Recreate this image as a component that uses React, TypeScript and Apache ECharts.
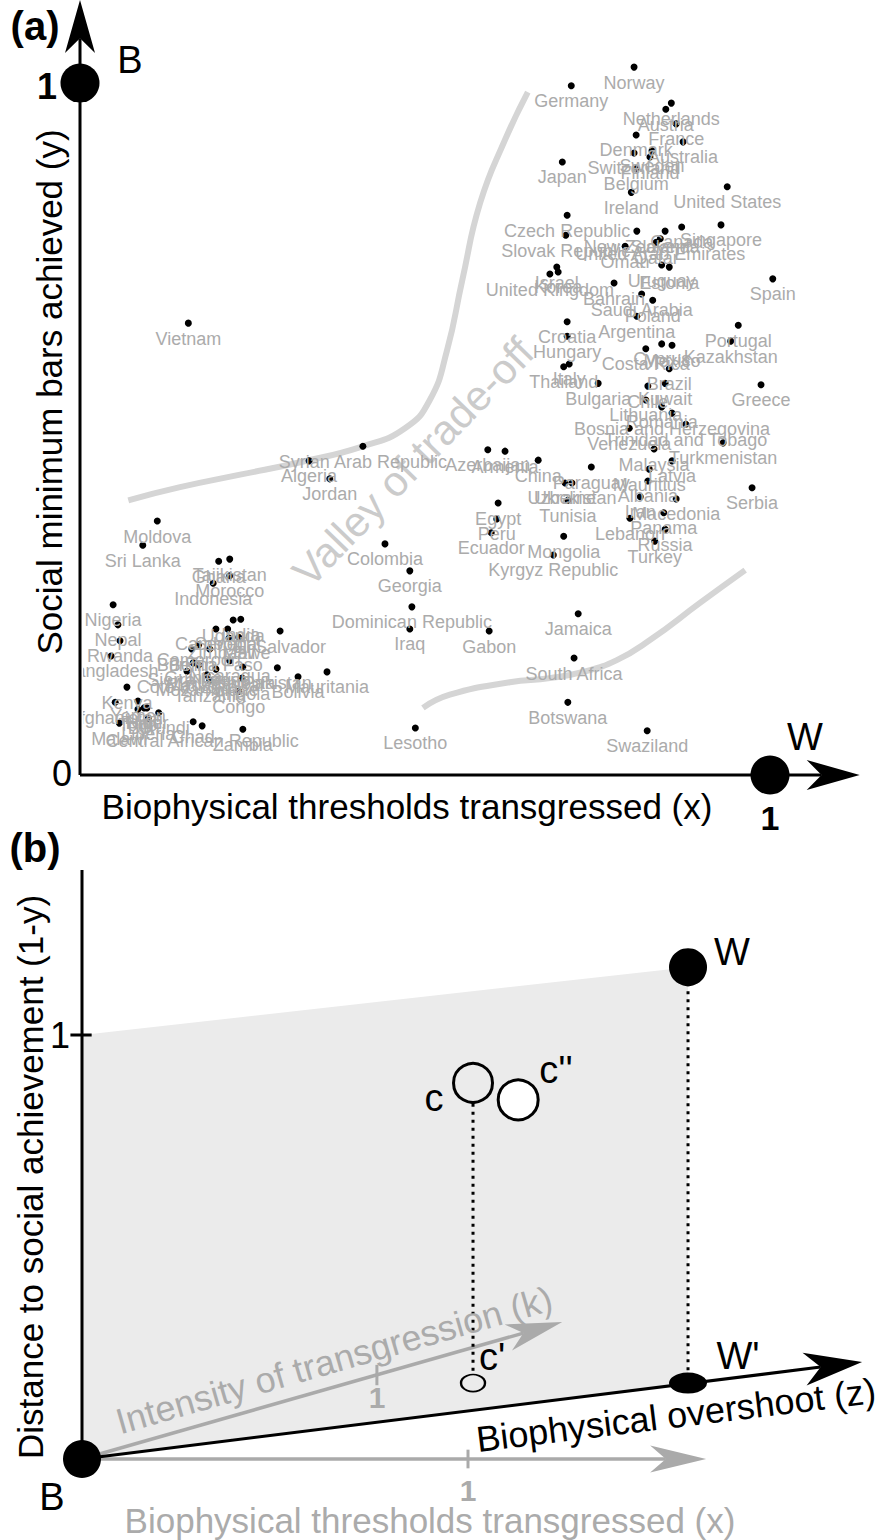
import React, { useEffect, useRef } from "react";
import * as echarts from "echarts";

const FONT = "'Liberation Sans', Arial, Helvetica, sans-serif";

// ---------- Panel (a) data ----------
const countries = [
  "Norway", "Germany", "Netherlands", "Austria", "France", "Denmark", "Australia", "Switzerland", "Sweden", "Finland",
  "Belgium", "Japan", "Ireland", "United States", "Czech Republic", "Slovak Republic", "New Zealand", "Slovenia", "Canada", "Singapore",
  "Oman", "United Arab Emirates", "Qatar", "Israel", "Korea", "United Kingdom", "Bahrain", "Uruguay", "Estonia", "Spain",
  "Saudi Arabia", "Poland", "Argentina", "Croatia", "Portugal", "Hungary", "Kazakhstan", "Cyprus", "Mexico", "Costa Rica",
  "Italy", "Thailand", "Brazil", "Bulgaria", "Kuwait", "Chile", "Greece", "Lithuania", "Romania", "Bosnia and Herzegovina",
  "Trinidad and Tobago", "Venezuela", "Turkmenistan", "Malaysia", "Latvia", "Mauritius", "Albania", "Serbia", "Iran", "Macedonia",
  "Panama", "Lebanon", "Russia", "Turkey", "Azerbaijan", "Armenia", "China", "Paraguay", "Ukraine", "Uzbekistan",
  "Tunisia", "Egypt", "Peru", "Ecuador", "Mongolia", "Kyrgyz Republic", "Syrian Arab Republic", "Algeria", "Jordan", "Colombia",
  "Georgia", "Dominican Republic", "Iraq", "Gabon", "Jamaica", "South Africa", "Botswana", "Swaziland", "Lesotho", "Vietnam",
  "Moldova", "Sri Lanka", "Ghana", "Tajikistan", "Morocco", "Indonesia", "Nigeria", "Uganda", "India", "Nepal",
  "Cambodia", "Senegal", "El Salvador", "Rwanda", "Zimbabwe", "Mali", "Benin", "Cameroon", "Burkina Faso", "Bangladesh",
  "Nicaragua", "Guinea", "Sierra Leone", "Côte d'Ivoire", "Madagascar", "Ethiopia", "Pakistan", "Bolivia", "Mauritania", "Mozambique",
  "Tanzania", "Angola", "Kenya", "Congo", "Afghanistan", "Yemen", "Togo", "Haiti", "Niger", "Burundi",
  "Liberia", "Malawi", "Chad", "Central African Republic", "Zambia",
];

const bioX = [
  0.803, 0.712, 0.857, 0.849, 0.864, 0.806, 0.874, 0.803, 0.829, 0.826,
  0.806, 0.699, 0.799, 0.938, 0.706, 0.704, 0.807, 0.848, 0.872, 0.929,
  0.790, 0.841, 0.835, 0.691, 0.693, 0.681, 0.774, 0.843, 0.854, 1.004,
  0.814, 0.830, 0.807, 0.706, 0.954, 0.706, 0.943, 0.843, 0.858, 0.820,
  0.709, 0.701, 0.854, 0.751, 0.848, 0.823, 0.987, 0.820, 0.843, 0.858,
  0.878, 0.796, 0.932, 0.832, 0.858, 0.825, 0.823, 0.974, 0.812, 0.864,
  0.846, 0.797, 0.848, 0.833, 0.591, 0.616, 0.664, 0.741, 0.703, 0.713,
  0.707, 0.606, 0.604, 0.596, 0.701, 0.686, 0.410, 0.332, 0.362, 0.442,
  0.478, 0.481, 0.478, 0.593, 0.722, 0.716, 0.707, 0.822, 0.486, 0.157,
  0.112, 0.091, 0.201, 0.217, 0.217, 0.193, 0.048, 0.222, 0.233, 0.055,
  0.197, 0.214, 0.290, 0.058, 0.216, 0.230, 0.162, 0.172, 0.188, 0.045,
  0.217, 0.164, 0.172, 0.155, 0.197, 0.236, 0.286, 0.316, 0.358, 0.184,
  0.188, 0.235, 0.068, 0.230, 0.051, 0.084, 0.084, 0.093, 0.097, 0.114,
  0.099, 0.057, 0.164, 0.177, 0.236,
];

const socialY = [
  1.023, 0.996, 0.971, 0.962, 0.941, 0.925, 0.915, 0.899, 0.902, 0.893,
  0.876, 0.886, 0.842, 0.850, 0.809, 0.780, 0.786, 0.786, 0.792, 0.795,
  0.764, 0.775, 0.770, 0.734, 0.727, 0.724, 0.711, 0.737, 0.734, 0.717,
  0.695, 0.686, 0.663, 0.655, 0.650, 0.634, 0.627, 0.623, 0.621, 0.616,
  0.594, 0.590, 0.587, 0.566, 0.566, 0.562, 0.564, 0.542, 0.532, 0.523,
  0.507, 0.501, 0.480, 0.471, 0.454, 0.442, 0.425, 0.415, 0.402, 0.399,
  0.379, 0.371, 0.355, 0.338, 0.470, 0.468, 0.455, 0.445, 0.422, 0.422,
  0.397, 0.393, 0.370, 0.350, 0.345, 0.318, 0.475, 0.454, 0.428, 0.334,
  0.295, 0.243, 0.211, 0.208, 0.233, 0.169, 0.105, 0.064, 0.068, 0.653,
  0.367, 0.332, 0.309, 0.312, 0.288, 0.277, 0.246, 0.224, 0.225, 0.217,
  0.211, 0.211, 0.208, 0.194, 0.198, 0.199, 0.182, 0.188, 0.182, 0.172,
  0.165, 0.162, 0.159, 0.150, 0.153, 0.156, 0.155, 0.142, 0.149, 0.145,
  0.137, 0.140, 0.127, 0.121, 0.105, 0.107, 0.095, 0.097, 0.097, 0.090,
  0.082, 0.075, 0.077, 0.071, 0.066,
];

// "Valley of trade-off" boundary curves
const valleyUpperX = [0.649, 0.616, 0.580, 0.554, 0.532, 0.507, 0.471, 0.410, 0.319, 0.232, 0.145, 0.070];
const valleyUpperY = [0.987, 0.918, 0.827, 0.715, 0.614, 0.542, 0.501, 0.475, 0.452, 0.434, 0.416, 0.397];
const valleyLowerX = [0.497, 0.536, 0.623, 0.681, 0.729, 0.778, 0.826, 0.899, 0.964];
const valleyLowerY = [0.097, 0.116, 0.134, 0.140, 0.149, 0.166, 0.195, 0.249, 0.296];

// Extremes B and W in panel (a)
const extremeX = [0, 1];
const extremeY = [1, 0];

// Axis extents of panel (a)
const axisAMaxX = 1.14;
const axisAMaxY = 1.12;
const arrowsA = [
  [0, 0, 0, 1.12],
  [0, 0, 1.13, 0],
];

// ---------- Panel (b) data ----------
const diagramNames = ["B", "W", "W'", "c", "c''", "c'"];
const diagramX = [0, 1.57, 1.57, 1.013, 1.13, 1.013];
const diagramY = [0, 1.16, 0.179, 0.887, 0.847, 0.179];

const planeX = [0, 1.57, 1.57, 0];
const planeY = [1, 1.16, 0.179, 0];

const axisBMaxX = 2.05;
const axisBMaxY = 1.4;
const zAxisArrow = [[0, 0, 2.021, 0.229]];
const grayArrows = [
  [0, 0, 1.244, 0.323],
  [0, 0, 1.617, 0],
];
const blackSegments = [
  [0, 0, 0, 1.389],
  [-0.03, 1, 0.025, 1],
];
const graySegments = [
  [0.764, 0.174, 0.764, 0.222],
  [1, -0.022, 1, 0.022],
];
const dottedSegments = [
  [1.57, 1.16, 1.57, 0.179],
  [1.013, 0.838, 1.013, 0.2],
];

// ---------- helpers ----------
function arrowSeries(gridIndex: number, data: number[][], color: string, width: number, headLen: number, headW: number, z: number) {
  return {
    type: "custom",
    xAxisIndex: gridIndex,
    yAxisIndex: gridIndex,
    z,
    silent: true,
    clip: false,
    data,
    renderItem: (params: any, api: any) => {
      const p0 = api.coord([api.value(0), api.value(1)]);
      const p1 = api.coord([api.value(2), api.value(3)]);
      const dx = p1[0] - p0[0];
      const dy = p1[1] - p0[1];
      const len = Math.hypot(dx, dy) || 1;
      const ux = dx / len;
      const uy = dy / len;
      const nx = -uy;
      const ny = ux;
      const notch = [p1[0] - ux * headLen * 0.72, p1[1] - uy * headLen * 0.72];
      const back = [p1[0] - ux * headLen, p1[1] - uy * headLen];
      return {
        type: "group",
        children: [
          {
            type: "line",
            shape: { x1: p0[0], y1: p0[1], x2: notch[0], y2: notch[1] },
            style: { stroke: color, lineWidth: width, fill: null },
          },
          {
            type: "polygon",
            shape: {
              points: [
                [p1[0], p1[1]],
                [back[0] + (nx * headW) / 2, back[1] + (ny * headW) / 2],
                notch,
                [back[0] - (nx * headW) / 2, back[1] - (ny * headW) / 2],
              ],
            },
            style: { fill: color },
          },
        ],
      };
    },
  };
}

function segmentSeries(gridIndex: number, data: number[][], color: string, width: number, z: number, dash?: number[]) {
  return {
    type: "custom",
    xAxisIndex: gridIndex,
    yAxisIndex: gridIndex,
    z,
    silent: true,
    clip: false,
    data,
    renderItem: (params: any, api: any) => {
      const p0 = api.coord([api.value(0), api.value(1)]);
      const p1 = api.coord([api.value(2), api.value(3)]);
      return {
        type: "line",
        shape: { x1: p0[0], y1: p0[1], x2: p1[0], y2: p1[1] },
        style: { stroke: color, lineWidth: width, lineDash: dash || null, fill: null },
      };
    },
  };
}

function txt(text: string, x: number, y: number, size: number, opts: any = {}) {
  return {
    type: "text",
    x,
    y,
    z: opts.z ?? 10,
    rotation: ((opts.rot || 0) * Math.PI) / 180,
    silent: true,
    style: {
      text,
      fill: opts.color || "#000",
      fontSize: size,
      fontFamily: FONT,
      fontWeight: opts.bold ? "bold" : "normal",
      align: "center",
      verticalAlign: "middle",
      textAlign: "center",
      textVerticalAlign: "middle",
    },
  };
}

const GRAY_TEXT = "#ababab";
const GRAY_LINE = "#aaaaaa";

// panel (b) point styles
const diagramStyles: any[] = [
  { symbolSize: 38, itemStyle: { color: "#000", opacity: 1 } },
  { symbolSize: 38, itemStyle: { color: "#000", opacity: 1 } },
  { symbolSize: [38, 21], itemStyle: { color: "#000", opacity: 1 } },
  { symbolSize: 39, itemStyle: { color: "rgba(0,0,0,0)", borderColor: "#000", borderWidth: 3, opacity: 1 } },
  { symbolSize: 40, itemStyle: { color: "#fff", borderColor: "#000", borderWidth: 3, opacity: 1 } },
  { symbolSize: [24, 17], itemStyle: { color: "rgba(0,0,0,0)", borderColor: "#000", borderWidth: 2, opacity: 1 } },
];

export default function App() {
  const ref = useRef<HTMLDivElement>(null);

  useEffect(() => {
    if (!ref.current) return;
    const chart = echarts.init(ref.current, null, { renderer: "svg" });

    const pxPerXA = 690;
    const pxPerYA = 775 / axisAMaxY;
    const pxPerXB = 386;
    const pxPerYB = 424;

    const option: any = {
      animation: false,
      backgroundColor: "#fff",
      grid: [
        { left: 80, top: 0, width: axisAMaxX * pxPerXA, height: axisAMaxY * pxPerYA },
        { left: 82, top: 1459 - axisBMaxY * pxPerYB, width: axisBMaxX * pxPerXB, height: axisBMaxY * pxPerYB },
      ],
      xAxis: [
        { gridIndex: 0, type: "value", min: 0, max: axisAMaxX, show: false },
        { gridIndex: 1, type: "value", min: 0, max: axisBMaxX, show: false },
      ],
      yAxis: [
        { gridIndex: 0, type: "value", min: 0, max: axisAMaxY, show: false },
        { gridIndex: 1, type: "value", min: 0, max: axisBMaxY, show: false },
      ],
      series: [
        // valley curves
        {
          type: "line",
          xAxisIndex: 0,
          yAxisIndex: 0,
          z: 1,
          silent: true,
          clip: false,
          smooth: 0.5,
          showSymbol: false,
          lineStyle: { color: "#d5d5d5", width: 6 },
          data: valleyUpperX.map((x, i) => [x, valleyUpperY[i]]),
        },
        {
          type: "line",
          xAxisIndex: 0,
          yAxisIndex: 0,
          z: 1,
          silent: true,
          clip: false,
          smooth: 0.5,
          showSymbol: false,
          lineStyle: { color: "#d5d5d5", width: 6 },
          data: valleyLowerX.map((x, i) => [x, valleyLowerY[i]]),
        },
        // countries
        {
          type: "scatter",
          xAxisIndex: 0,
          yAxisIndex: 0,
          z: 3,
          silent: true,
          clip: false,
          symbol: "circle",
          symbolSize: 7,
          itemStyle: { color: "#000", opacity: 1 },
          label: {
            show: true,
            position: "bottom",
            distance: 3,
            formatter: "{b}",
            color: GRAY_TEXT,
            fontSize: 18,
            fontFamily: FONT,
          },
          data: countries.map((name, i) => ({ name, value: [bioX[i], socialY[i]] })),
        },
        // axes (a)
        arrowSeries(0, arrowsA, "#000", 3, 53, 30, 5),
        // extremes B, W
        {
          type: "scatter",
          xAxisIndex: 0,
          yAxisIndex: 0,
          z: 6,
          silent: true,
          clip: false,
          symbolSize: 39,
          itemStyle: { color: "#000", opacity: 1 },
          data: extremeX.map((x, i) => [x, extremeY[i]]),
        },
        // panel (b)
        {
          type: "custom",
          xAxisIndex: 1,
          yAxisIndex: 1,
          z: 1,
          silent: true,
          clip: false,
          data: [[0, 0]],
          renderItem: (params: any, api: any) => ({
            type: "polygon",
            shape: { points: planeX.map((x, i) => api.coord([x, planeY[i]])) },
            style: { fill: "#ebebeb" },
          }),
        },
        arrowSeries(1, grayArrows, GRAY_LINE, 3.5, 56, 27, 2),
        segmentSeries(1, graySegments, GRAY_LINE, 3, 2),
        arrowSeries(1, zAxisArrow, "#000", 3, 58, 33, 3),
        segmentSeries(1, blackSegments, "#000", 3, 3),
        segmentSeries(1, dottedSegments, "#000", 3, 3, [3, 5]),
        {
          type: "scatter",
          xAxisIndex: 1,
          yAxisIndex: 1,
          z: 6,
          silent: true,
          clip: false,
          symbol: "circle",
          itemStyle: { opacity: 1 },
          data: diagramNames.map((name, i) => ({
            name,
            value: [diagramX[i], diagramY[i]],
            ...diagramStyles[i],
          })),
        },
      ],
      graphic: [
        // clip strip for labels crossing the left axis in panel (a)
        { type: "rect", z: 4, silent: true, shape: { x: 63, y: 590, width: 20, height: 160 }, style: { fill: "#fff" } },
        // panel (a) texts
        txt("(a)", 35, 26, 40, { bold: true }),
        txt("B", 130, 60, 38),
        txt("1", 47, 86, 36, { bold: true }),
        txt("0", 62, 773, 36),
        txt("W", 805, 737, 38),
        txt("1", 770, 818, 34, { bold: true }),
        txt("Biophysical thresholds transgressed (x)", 407, 806, 35),
        txt("Social minimum bars achieved (y)", 49, 392, 35, { rot: 90 }),
        txt("Valley of trade-off", 413, 462, 42, { rot: 46, color: "#cbcbcb", z: 1 }),
        // panel (b) texts
        txt("(b)", 35, 848, 40, { bold: true }),
        txt("1", 60, 1035, 36),
        txt("W", 732, 952, 38),
        txt("W'", 738, 1356, 38),
        txt("c", 434, 1098, 38),
        txt("c''", 556, 1070, 38),
        txt("c'", 492, 1357, 38),
        txt("B", 52, 1497, 38),
        txt("1", 377, 1397, 30, { bold: true, color: GRAY_TEXT }),
        txt("1", 468, 1490, 30, { bold: true, color: GRAY_TEXT }),
        txt("Intensity of transgression (k)", 334, 1360, 36, { rot: 16, color: GRAY_TEXT }),
        txt("Biophysical overshoot (z)", 676, 1415, 36, { rot: 7 }),
        txt("Biophysical thresholds transgressed (x)", 430, 1520, 35, { color: GRAY_TEXT }),
        txt("Distance to social achievement (1-y)", 30, 1177, 35, { rot: 90 }),
      ],
    };

    chart.setOption(option);
    return () => chart.dispose();
  }, []);

  return (
    <div
      ref={ref}
      style={{ position: "absolute", left: 0, top: 0, width: 886, height: 1540, background: "#fff" }}
    />
  );
}
